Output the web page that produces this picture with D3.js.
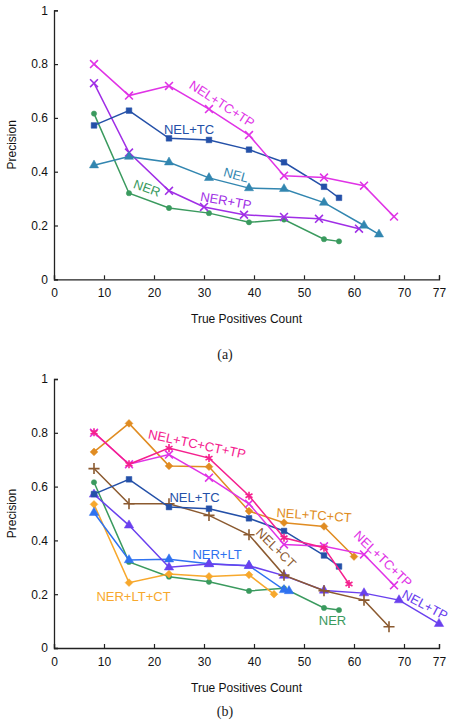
<!DOCTYPE html>
<html>
<head>
<meta charset="utf-8">
<script src="https://cdn.jsdelivr.net/npm/d3@7"></script>
<style>
  body { margin: 0; background: #fff; }
  svg { display: block; font-family: "Liberation Sans", Arial, sans-serif; }
</style>
</head>
<body>
<div id="chart"></div>
<script>
// x values (true positives count) per series
const xNER = [8, 15, 23, 31, 39, 46, 54, 57];
const xNERTP = [8, 15, 23, 30, 38, 46, 53, 61];
const xNEL = [8, 15, 23, 31, 39, 46, 54, 62, 65];
const xNELTC = [8, 15, 23, 31, 39, 46, 54, 57];
const xNELTCTP = [8, 15, 23, 31, 39, 46, 54, 62, 68];
const xNELTCCTTP = [8, 15, 23, 31, 39, 46, 54, 59];
const xNELTCCT = [8, 15, 23, 31, 39, 46, 54, 60];
const xNELCT = [8, 15, 23, 31, 39, 46, 54, 62, 67];
const xNELTP = [8, 15, 23, 31, 39, 46, 54, 62, 69, 77];
const xNERLT = [8, 15, 23, 31, 39, 46, 47];
const xNERLTCT = [8, 15, 23, 31, 39, 44];

// precision values per series
const pNER = [0.616, 0.320, 0.265, 0.246, 0.212, 0.222, 0.149, 0.141];
const pNERTP = [0.729, 0.471, 0.329, 0.269, 0.240, 0.232, 0.225, 0.188];
const pNEL = [0.424, 0.456, 0.435, 0.377, 0.339, 0.336, 0.285, 0.200, 0.167];
const pNELTC = [0.572, 0.627, 0.524, 0.518, 0.482, 0.435, 0.344, 0.303];
const pNELTCTP = [0.800, 0.683, 0.719, 0.633, 0.536, 0.385, 0.378, 0.348, 0.233];
const pNELTCCTTP = [0.802, 0.683, 0.743, 0.706, 0.566, 0.410, 0.373, 0.238];
const pNELTCCT = [0.729, 0.835, 0.677, 0.674, 0.509, 0.466, 0.452, 0.340];
const pNELCT = [0.667, 0.536, 0.536, 0.493, 0.421, 0.271, 0.213, 0.178, 0.079];
const pNELTP = [0.571, 0.456, 0.300, 0.312, 0.306, 0.269, 0.214, 0.204, 0.178, 0.090];
const pNERLT = [0.503, 0.327, 0.330, 0.313, 0.306, 0.216, 0.212];
const pNERLTCT = [0.534, 0.243, 0.275, 0.266, 0.272, 0.200];

const xTicks = [0, 10, 20, 30, 40, 50, 60, 70, 77];
const yTicks = [0, 0.2, 0.4, 0.6, 0.8, 1];

// series names per panel (draw order)
const seriesA = ["NER", "NER+TP", "NEL", "NEL+TC", "NEL+TC+TP"];
const seriesB = ["NER", "NER+LT+CT", "NER+LT", "NEL+TP", "NEL+CT", "NEL+TC", "NEL+TC+CT", "NEL+TC+TP", "NEL+TC+CT+TP"];

// label anchors in data units: [name, count, precision, angle]
const labelsA = [
  ["NEL+TC+TP", 33.6, 0.652, 33],
  ["NEL+TC", 27, 0.558, 0],
  ["NEL", 36.4, 0.388, 15],
  ["NER", 18.6, 0.339, 20],
  ["NER+TP", 34.4, 0.292, 10]
];
const labelsB = [
  ["NEL+TC+CT+TP", 28.6, 0.758, 12],
  ["NEL+TC", 28.1, 0.559, 0],
  ["NEL+TC+CT", 52, 0.494, 4],
  ["NEL+CT", 44.4, 0.372, 45],
  ["NEL+TC+TP", 65.8, 0.331, 44],
  ["NEL+TP", 74.2, 0.160, 28],
  ["NER+LT", 32.6, 0.346, 0],
  ["NER+LT+CT", 15.9, 0.193, 0],
  ["NER", 55.7, 0.104, 0]
];

const seriesData = {
  "NER": [xNER, pNER],
  "NER+TP": [xNERTP, pNERTP],
  "NEL": [xNEL, pNEL],
  "NEL+TC": [xNELTC, pNELTC],
  "NEL+TC+TP": [xNELTCTP, pNELTCTP],
  "NEL+TC+CT+TP": [xNELTCCTTP, pNELTCCTTP],
  "NEL+TC+CT": [xNELTCCT, pNELTCCT],
  "NEL+CT": [xNELCT, pNELCT],
  "NEL+TP": [xNELTP, pNELTP],
  "NER+LT": [xNERLT, pNERLT],
  "NER+LT+CT": [xNERLTCT, pNERLTCT]
};

// diamonds are drawn as squares turned 45 degrees
const styles = {
  "NER": { color: "#3a9a5e", symbol: d3.symbolCircle, size: 22, fill: true, rot: 0 },
  "NER+TP": { color: "#a02ee6", symbol: d3.symbolX, size: 42, fill: false, rot: 0 },
  "NEL": { color: "#3286b0", symbol: d3.symbolTriangle, size: 36, fill: true, rot: 0 },
  "NEL+TC": { color: "#2450a8", symbol: d3.symbolSquare, size: 32, fill: true, rot: 0 },
  "NEL+TC+TP": { color: "#e033e6", symbol: d3.symbolX, size: 42, fill: false, rot: 0 },
  "NEL+TC+CT+TP": { color: "#f5208e", symbol: d3.symbolAsterisk, size: 45, fill: false, rot: 0 },
  "NEL+TC+CT": { color: "#e08c22", symbol: d3.symbolSquare, size: 30, fill: true, rot: 45 },
  "NEL+CT": { color: "#8b5a30", symbol: d3.symbolPlus, size: 42, fill: false, rot: 0 },
  "NEL+TP": { color: "#6a40ee", symbol: d3.symbolTriangle, size: 38, fill: true, rot: 0 },
  "NER+LT": { color: "#2f72f0", symbol: d3.symbolTriangle, size: 38, fill: true, rot: 0 },
  "NER+LT+CT": { color: "#f7a82c", symbol: d3.symbolSquare, size: 30, fill: true, rot: 45 }
};

const width = 451, height = 721;
const svg = d3.select("#chart").append("svg")
  .attr("width", width)
  .attr("height", height);

const x = d3.scaleLinear().domain([0, 77]).range([54, 439]);

function drawPanel(top, bottom, names, labels, caption, captionY) {
  const y = d3.scaleLinear().domain([0, 1]).range([bottom, top]);
  const g = svg.append("g");

  // axes
  const xAxis = g.append("g")
    .attr("transform", `translate(0,${bottom})`)
    .call(d3.axisBottom(x).tickValues(xTicks).tickSize(-4).tickPadding(9).tickFormat(d3.format("d")));
  const yAxis = g.append("g")
    .attr("transform", `translate(${x(0)},0)`)
    .call(d3.axisLeft(y).tickValues(yTicks).tickSize(-4).tickPadding(6).tickFormat(d => d === 0 || d === 1 ? d : d.toFixed(1)));
  [xAxis, yAxis].forEach(a => {
    a.select(".domain").attr("stroke", "#222").attr("stroke-width", 1.3);
    a.selectAll(".tick line").attr("stroke", "#222").attr("stroke-width", 1.2);
    a.selectAll(".tick text").attr("fill", "#111").style("font-size", "12px")
      .style("font-family", "Liberation Sans, Arial, sans-serif");
  });

  // axis titles
  g.append("text")
    .attr("x", (x(0) + x(77)) / 2)
    .attr("y", bottom + 44)
    .attr("text-anchor", "middle")
    .style("font-size", "12px")
    .attr("fill", "#111")
    .text("True Positives Count");
  g.append("text")
    .attr("transform", `translate(16,${(top + bottom) / 2}) rotate(-90)`)
    .attr("text-anchor", "middle")
    .style("font-size", "12px")
    .attr("fill", "#111")
    .text("Precision");

  const line = d3.line().x(d => x(d[0])).y(d => y(d[1]));

  names.forEach(name => {
    const [xs, ps] = seriesData[name];
    const pts = xs.map((v, i) => [v, ps[i]]);
    const st = styles[name];
    g.append("path")
      .datum(pts)
      .attr("d", line)
      .attr("fill", "none")
      .attr("stroke", st.color)
      .attr("stroke-width", 1.5);
    g.selectAll(null)
      .data(pts)
      .enter()
      .append("path")
      .attr("transform", d => `translate(${x(d[0])},${y(d[1])}) rotate(${st.rot})`)
      .attr("d", d3.symbol().type(st.symbol).size(st.size))
      .attr("fill", st.fill ? st.color : "none")
      .attr("stroke", st.color)
      .attr("stroke-width", st.fill ? 0.5 : 1.6);
  });

  // inline series labels
  labels.forEach(([name, cx, cy, angle]) => {
    g.append("text")
      .attr("transform", `translate(${x(cx)},${y(cy)}) rotate(${angle})`)
      .attr("text-anchor", "middle")
      .attr("dominant-baseline", "central")
      .style("font-size", "13px")
      .attr("fill", styles[name].color)
      .text(name);
  });

  svg.append("text")
    .attr("x", 225)
    .attr("y", captionY)
    .attr("text-anchor", "middle")
    .style("font-family", "Liberation Serif, Times New Roman, serif")
    .style("font-size", "14px")
    .attr("fill", "#222")
    .text(caption);
}

drawPanel(10.3, 279.3, seriesA, labelsA, "(a)", 359);
drawPanel(379, 648, seriesB, labelsB, "(b)", 716);
</script>
</body>
</html>
